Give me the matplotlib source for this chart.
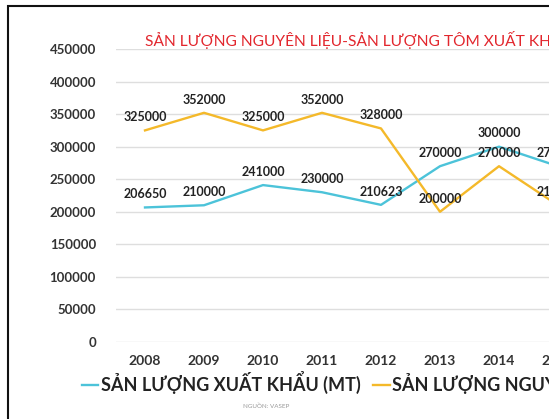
import matplotlib
matplotlib.use("Agg")
import matplotlib.pyplot as plt
from matplotlib.patches import Rectangle

years = ["2008", "2009", "2010", "2011", "2012", "2013", "2014", "2015"]
xuat_khau = [206650, 210000, 241000, 230000, 210623, 270000, 300000, 270000]
nguyen_lieu = [325000, 352000, 325000, 352000, 328000, 200000, 270000, 210000]
y_ticks = [0, 50000, 100000, 150000, 200000, 250000, 300000, 350000, 400000, 450000]

title = "SẢN LƯỢNG NGUYÊN LIỆU-SẢN LƯỢNG TÔM XUẤT KHẨU"
label_xk = "SẢN LƯỢNG XUẤT KHẨU (MT)"
label_nl = "SẢN LƯỢNG NGUYÊN LIỆU (MT)"
source = "NGUỒN: VASEP"

BLUE = "#4cc3d9"
GOLD = "#f4b92a"

plt.rcParams['font.family'] = ['Lato', 'DejaVu Sans']

W, H = 549, 419
fig = plt.figure(figsize=(W / 100, H / 100), dpi=100)
fig.patch.set_facecolor("white")

# axes: x from 115.5 px to 587.5 px (extends past right edge), y 0->342px, 450000->49px
left = 115.5 / W
width = (587.5 - 115.5) / W
bottom = (H - 342) / H
top = (H - 49) / H
ax = fig.add_axes([left, bottom, width, top - bottom])

x = list(range(len(years)))
ax.plot(x, xuat_khau, color=BLUE, lw=1.7, label=label_xk, clip_on=False)
ax.plot(x, nguyen_lieu, color=GOLD, lw=1.7, label=label_nl, clip_on=False)

for xi, v in zip(x, xuat_khau):
    ax.annotate(f"{v}", (xi, v), xytext=(0, 9.5), textcoords="offset points",
                ha="center", va="center", fontsize=9, fontweight="bold", color="#222222")
for xi, v in zip(x, nguyen_lieu):
    ax.annotate(f"{v}", (xi, v), xytext=(0, 9.5), textcoords="offset points",
                ha="center", va="center", fontsize=9, fontweight="bold", color="#222222")

ax.set_xlim(-0.5, len(years) - 0.5)
ax.set_ylim(0, 450000)
ax.set_yticks(y_ticks)
ax.set_yticklabels([str(t) for t in y_ticks])
ax.set_xticks(x)
ax.set_xticklabels(years)
ax.yaxis.grid(True, color="#dedede", lw=1)
ax.set_axisbelow(True)
for s in ax.spines.values():
    s.set_visible(False)
ax.tick_params(axis="both", length=0, colors="#333333")
ax.tick_params(axis="y", pad=14, labelsize=9.5)
ax.tick_params(axis="x", pad=9, labelsize=10)
for lab in ax.get_xticklabels() + ax.get_yticklabels():
    lab.set_fontweight("bold")

fig.text(145 / W, 1 - 40 / H, title, color="#e2262d", fontsize=11.2,
         ha="left", va="center")

fig.legend(loc="upper left", bbox_to_anchor=(82 / W, 1 - 371 / H), ncol=2,
           frameon=False, handlelength=0.9, handletextpad=0.15, columnspacing=0.7,
           prop={"size": 13, "weight": "bold"}, labelcolor="#222222",
           borderaxespad=0, borderpad=0)

fig.text(266 / W, 1 - 406 / H, source, color="#999999", fontsize=4.5,
         ha="center", va="center")

fig.patches.append(Rectangle((8 / W, -0.1), 1.2, 1 - 6 / H + 0.1,
                             transform=fig.transFigure, fill=False,
                             edgecolor="#111111", lw=1.5))

fig.savefig("out.png", dpi=100)
